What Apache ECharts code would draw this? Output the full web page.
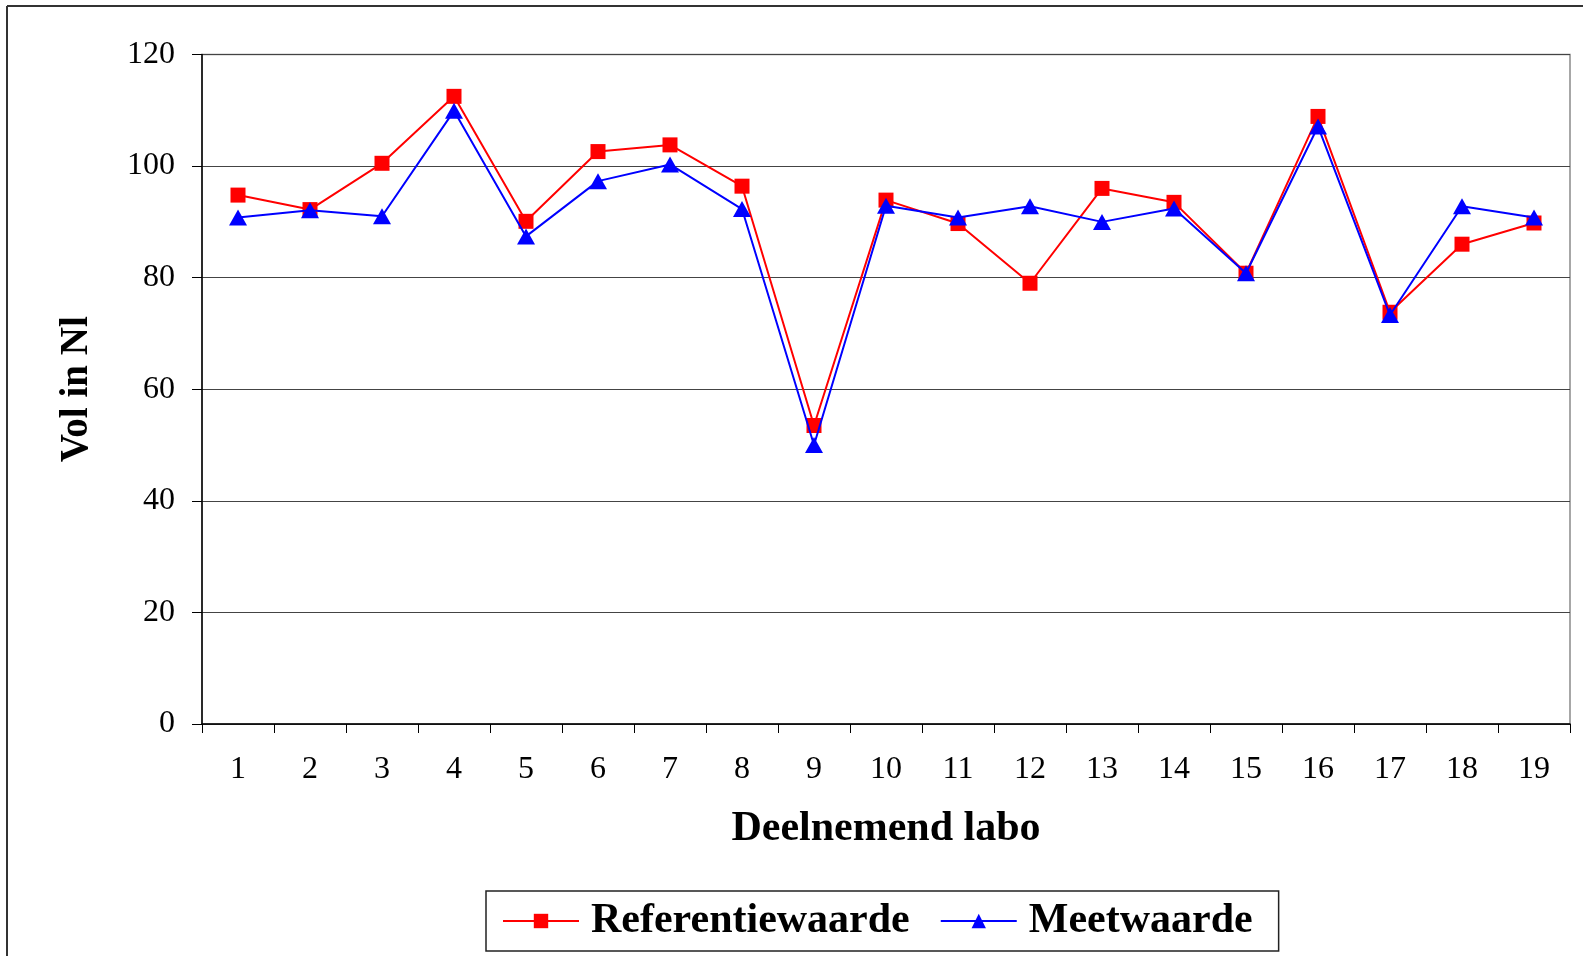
<!DOCTYPE html>
<html>
<head>
<meta charset="utf-8">
<script src="https://cdn.jsdelivr.net/npm/echarts@6/dist/echarts.min.js"></script>
<style>
html,body{margin:0;padding:0;background:#fff;}
#chart{width:1583px;height:956px;}
</style>
</head>
<body>
<div id="chart"></div>
<script>
const categories = ['1','2','3','4','5','6','7','8','9','10','11','12','13','14','15','16','17','18','19'];
const referentiewaarde = [94.8, 92.2, 100.5, 112.5, 90.1, 102.6, 103.8, 96.4, 53.5, 93.9, 89.7, 79.0, 96.0, 93.5, 80.8, 108.9, 73.8, 86.0, 89.8];
const meetwaarde = [90.8, 92.1, 91.0, 109.9, 87.4, 97.3, 100.3, 92.3, 50.0, 92.9, 90.8, 92.8, 90.0, 92.4, 80.8, 107.1, 73.3, 92.8, 90.8];
const yTicks = {min: 0, max: 120, interval: 20};

const FONT = '"Liberation Serif", "Times New Roman", serif';
const chart = echarts.init(document.getElementById('chart'));
chart.setOption({
  animation: false,
  backgroundColor: '#fff',
  graphic: [
    {type: 'line', shape: {x1: 7, y1: 6, x2: 1583, y2: 6}, style: {stroke: '#333', lineWidth: 2}},
    {type: 'line', shape: {x1: 7, y1: 6, x2: 7, y2: 956}, style: {stroke: '#333', lineWidth: 2}}
  ],
  grid: {
    left: 202, top: 54.5, right: 13, bottom: 232,
    show: true, borderColor: '#8a8a8a', borderWidth: 1.5
  },
  legend: {
    left: 486, top: 891,
    padding: [9, 26, 9, 16],
    itemGap: 30,
    itemWidth: 76, itemHeight: 18,
    borderColor: '#222', borderWidth: 1.5,
    textStyle: {fontFamily: FONT, fontWeight: 'bold', fontSize: 42, color: '#000', padding: [0, 0, 0, 7]},
    data: ['Referentiewaarde', 'Meetwaarde']
  },
  xAxis: {
    type: 'category',
    data: categories,
    boundaryGap: true,
    name: 'Deelnemend labo',
    nameLocation: 'middle',
    nameGap: 84,
    nameTextStyle: {fontFamily: FONT, fontWeight: 'bold', fontSize: 42, color: '#000'},
    axisLine: {lineStyle: {color: '#000', width: 1.5}},
    axisTick: {show: true, length: 9, lineStyle: {color: '#000', width: 1}},
    axisLabel: {interval: 0, margin: 30, fontFamily: FONT, fontSize: 32, color: '#000'},
    splitLine: {show: false}
  },
  yAxis: {
    type: 'value',
    min: yTicks.min, max: yTicks.max, interval: yTicks.interval,
    name: 'Vol in Nl',
    nameLocation: 'middle',
    nameGap: 106,
    nameRotate: 90,
    nameTextStyle: {fontFamily: FONT, fontWeight: 'bold', fontSize: 39, color: '#000'},
    axisLine: {show: true, lineStyle: {color: '#000', width: 1.5}},
    axisTick: {show: true, length: 10, lineStyle: {color: '#000', width: 1}},
    axisLabel: {margin: 27, fontFamily: FONT, fontSize: 32, color: '#000'},
    splitLine: {show: true, lineStyle: {color: '#444', width: 1}}
  },
  series: [
    {
      name: 'Referentiewaarde',
      type: 'line',
      data: referentiewaarde,
      symbol: 'rect',
      symbolSize: 15,
      lineStyle: {color: '#ff0000', width: 2},
      itemStyle: {color: '#ff0000'},
      z: 2
    },
    {
      name: 'Meetwaarde',
      type: 'line',
      data: meetwaarde,
      symbol: 'triangle',
      symbolSize: [18, 16],
      lineStyle: {color: '#0000ff', width: 2},
      itemStyle: {color: '#0000ff'},
      z: 3
    }
  ]
});
</script>
</body>
</html>
